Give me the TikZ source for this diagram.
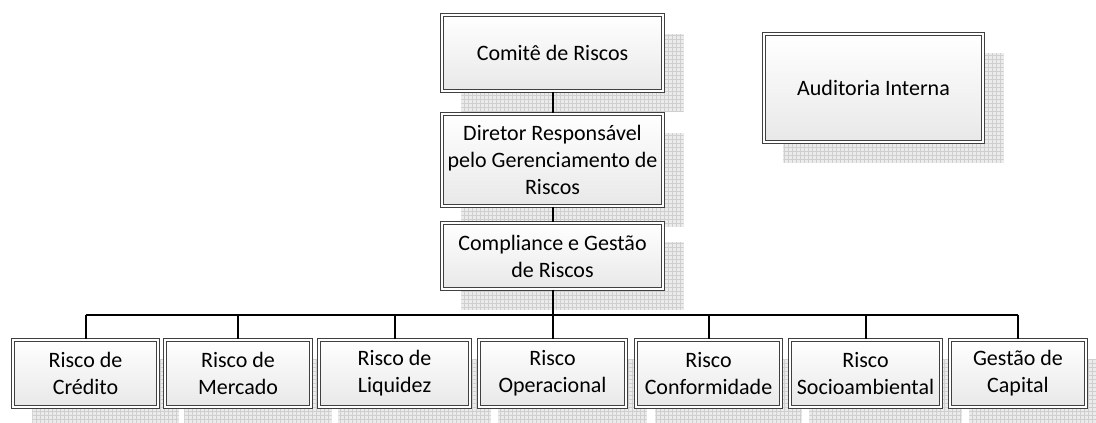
\documentclass[tikz,border=0pt]{standalone}
\usepackage{fontspec}
\setmainfont{Carlito}
\usetikzlibrary{positioning,patterns,backgrounds}
\tikzset{
  orgbox/.style={draw=black!75, line width=0.6pt, double=white, double distance=1.5pt,
    top color=white, bottom color=black!9, align=center, inner sep=1pt,
    font=\fontsize{16.5}{20.25}\selectfont},
  wh/.style 2 args={minimum width=#1*0.75pt-2.7pt, minimum height=#2*0.75pt-2.7pt},
  link/.style={line width=1.5pt},
  gridshadow/.style={fill=black!8, postaction={pattern=grid, pattern color=black!19}}
}

\begin{document}
\begin{tikzpicture}[x=0.75pt,y=0.75pt,yscale=-1,xscale=1]
    \useasboundingbox (0,0) rectangle (1096,423);

    % Text Node
    \node [orgbox, wh={225}{80}] (comite) at (552.5,53) {Comitê de Riscos};
    % Text Node
    \node [orgbox, wh={225}{96}] (diretor) at (552.5,160) {Diretor Responsável\\pelo Gerenciamento de\\Riscos};
    % Text Node
    \node [orgbox, wh={225}{70}] (compliance) at (552.5,256) {Compliance e Gestão\\de Riscos};
    % Text Node
    \node [orgbox, wh={223}{112}] (auditoria) at (873.5,88) {Auditoria Interna};

    % Text Node
    \node [orgbox, wh={149}{71}] (credito) at (85.5,373.5) {Risco de\\Crédito};
    \node [orgbox, wh={150}{71}] (mercado) at (238,373.5) {Risco de\\Mercado};
    \node [orgbox, wh={155}{71}] (liquidez) at (394.5,373.5) {Risco de\\Liquidez};
    \node [orgbox, wh={151}{71}] (operacional) at (552.5,373.5) {Risco\\Operacional};
    \node [orgbox, wh={149}{71}] (conformidade) at (708.5,373.5) {Risco\\Conformidade};
    \node [orgbox, wh={155}{71}] (socio) at (865.5,373.5) {Risco\\Socioambiental};
    \node [orgbox, wh={140}{71}] (capital) at (1018,373.5) {Gestão de\\Capital};

    % shadows
    \begin{scope}[on background layer]
      \foreach \n in {comite,diretor,compliance,auditoria,credito,mercado,liquidez,operacional,conformidade,socio,capital}
        \path [gridshadow] ([shift={(20,20)}]\n.north west) rectangle ([shift={(20,20)}]\n.south east);
    \end{scope}

    %Straight Lines
    \coordinate (bus) at (552.5,315);
    \draw [link] (comite) -- (diretor);
    \draw [link] (diretor) -- (compliance);
    \draw [link] (compliance) -- (bus);
    \draw [link] (bus -| credito) -- (bus -| capital);
    \foreach \n in {credito,mercado,liquidez,operacional,conformidade,socio,capital}
      \draw [link] (bus -| \n) -- (\n);

\end{tikzpicture}
\end{document}
